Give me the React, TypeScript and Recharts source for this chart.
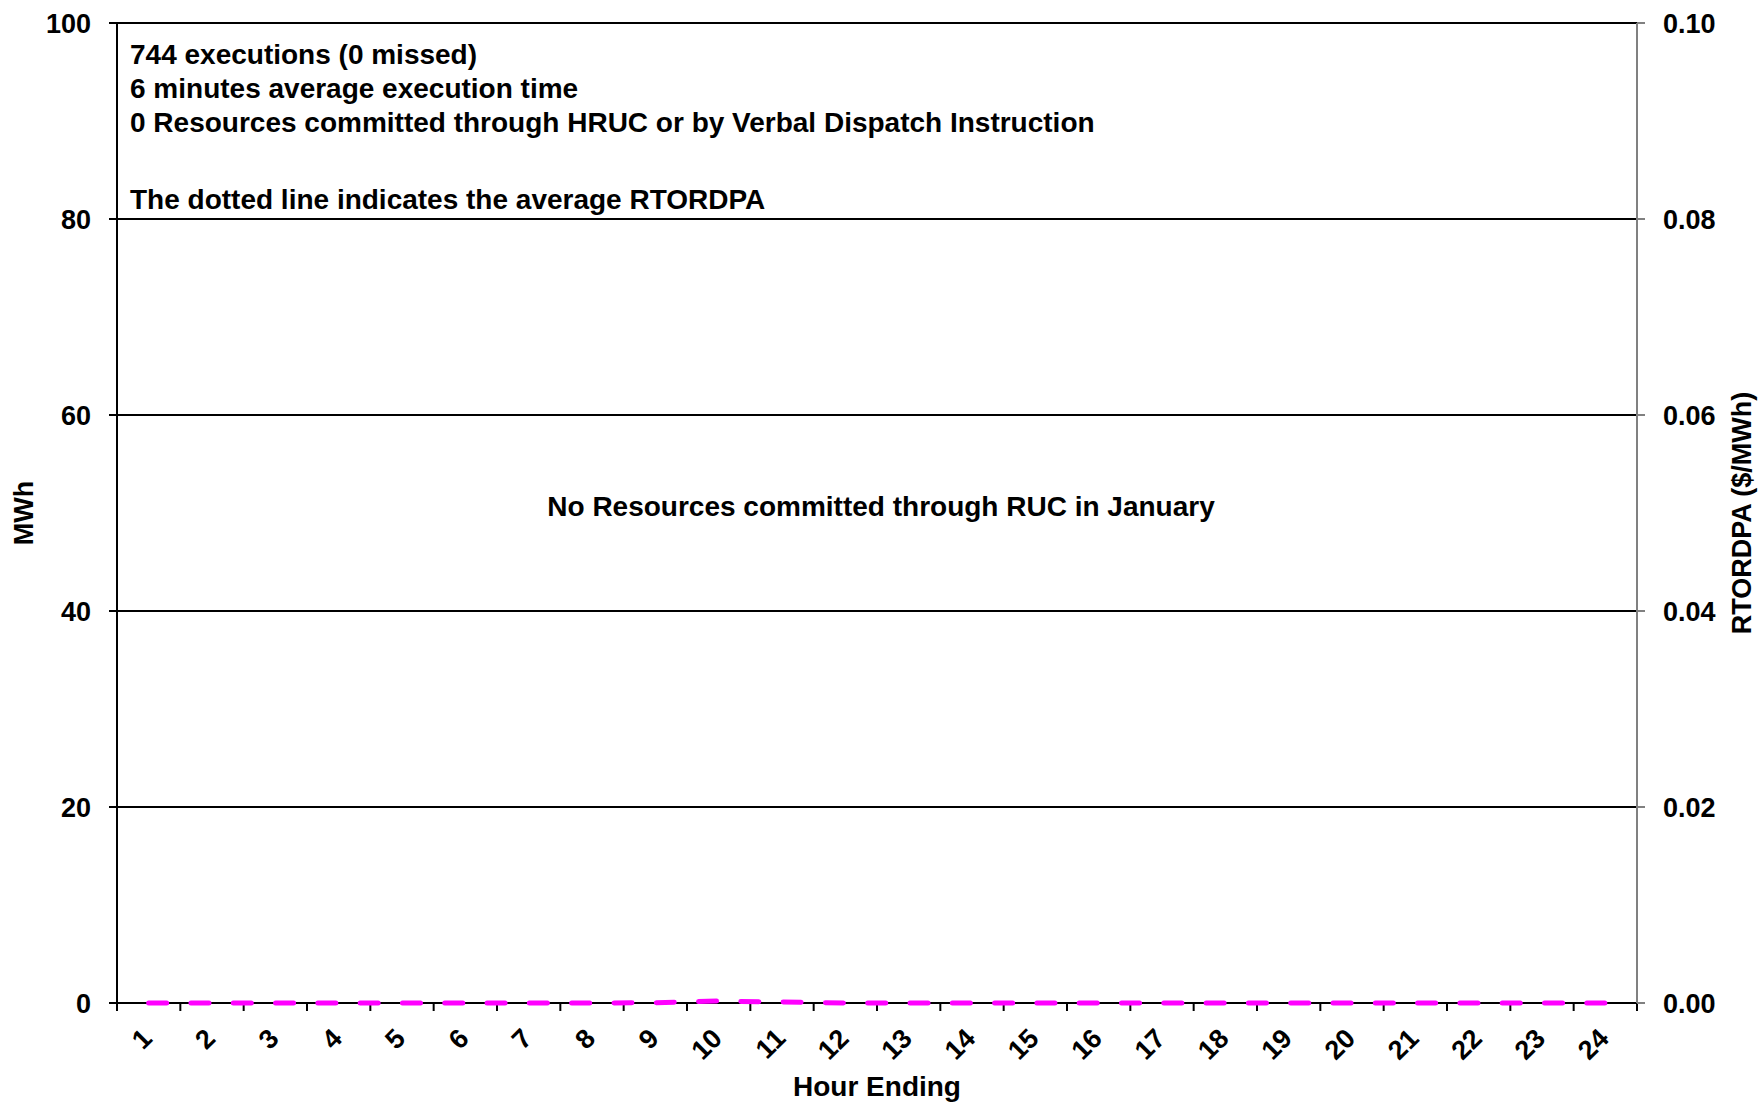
import React from 'react';
import { ComposedChart, Bar, Line, XAxis, YAxis, CartesianGrid } from 'recharts';

// hour ending 1..24
const hours = [1, 2, 3, 4, 5, 6, 7, 8, 9, 10, 11, 12, 13, 14, 15, 16, 17, 18, 19, 20, 21, 22, 23, 24];
// MWh committed through RUC per hour: none this month
const mwhCommitted = [0, 0, 0, 0, 0, 0, 0, 0, 0, 0, 0, 0, 0, 0, 0, 0, 0, 0, 0, 0, 0, 0, 0, 0];
// average RTORDPA ($/MWh) per hour, only HE 9-11 lift off zero
const rtordpa = [0, 0, 0, 0, 0, 0, 0, 0, 0.00003, 0.0002, 0.0001, 0, 0, 0, 0, 0, 0, 0, 0, 0, 0, 0, 0, 0];

const mwhTicks = [0, 20, 40, 60, 80, 100];
const priceTicks = [0, 0.02, 0.04, 0.06, 0.08, 0.1];

const notes = [
  '744 executions (0 missed)',
  '6 minutes average execution time',
  '0 Resources committed through HRUC or by Verbal Dispatch Instruction',
];
const dottedNote = 'The dotted line indicates the average RTORDPA';
const centerNote = 'No Resources committed through RUC in January';

const chartData = hours.map((hour, i) => ({ hour, mwh: mwhCommitted[i], rtordpa: rtordpa[i] }));
// tick marks sit between the categories, like the excel original
const hourEdges = [...hours.map((h) => h - 0.5), hours[hours.length - 1] + 0.5];

const FONT = "'Liberation Sans', Arial, sans-serif";
const axisText = { fill: '#000', fontSize: 27, fontWeight: 'bold', fontFamily: FONT };

const HourTick = ({ x, y, payload }: any) => {
  const tx = x + 5;
  const ty = y + 36;
  return (
    <text
      x={tx}
      y={ty}
      transform={`rotate(-45, ${tx}, ${ty})`}
      textAnchor="end"
      {...axisText}
    >
      {payload.value}
    </text>
  );
};

export default function App() {
  return (
    <div
      style={{
        position: 'absolute',
        left: 0,
        top: 0,
        width: 1759,
        height: 1103,
        background: '#fff',
        fontFamily: FONT,
      }}
    >
      <ComposedChart
        width={1759}
        height={1103}
        data={chartData}
        margin={{ top: 23, right: 0, bottom: 0, left: 0 }}
      >
        <CartesianGrid vertical={false} stroke="#000" strokeWidth={2} xAxisId="hours" yAxisId="mwh" />
        <XAxis
          xAxisId="edges"
          type="number"
          dataKey="hour"
          domain={[0.5, 24.5]}
          ticks={hourEdges}
          interval={0}
          tick={() => <g />}
          tickSize={8}
          height={1}
          axisLine={{ stroke: '#000', strokeWidth: 2 }}
          tickLine={{ stroke: '#000', strokeWidth: 2 }}
        />
        <XAxis
          xAxisId="hours"
          type="number"
          dataKey="hour"
          domain={[0.5, 24.5]}
          ticks={hours}
          interval={0}
          tick={HourTick}
          tickSize={0}
          tickMargin={0}
          height={99}
          axisLine={false}
          tickLine={false}
          label={{ value: 'Hour Ending', position: 'insideBottom', offset: 7, ...axisText, fontSize: 28 }}
        />
        <YAxis
          yAxisId="mwh"
          orientation="left"
          width={117}
          type="number"
          domain={[0, 100]}
          ticks={mwhTicks}
          interval={0}
          tickSize={8}
          tickMargin={18}
          tick={axisText}
          axisLine={{ stroke: '#000', strokeWidth: 2 }}
          tickLine={{ stroke: '#000', strokeWidth: 2 }}
          label={{ value: 'MWh', angle: -90, position: 'insideLeft', offset: 23, ...axisText, style: { textAnchor: 'middle' } }}
        />
        <YAxis
          yAxisId="price"
          orientation="right"
          width={122}
          type="number"
          domain={[0, 0.1]}
          ticks={priceTicks}
          interval={0}
          tickFormatter={(v: number) => v.toFixed(2)}
          tickSize={8}
          tickMargin={18}
          tick={axisText}
          axisLine={{ stroke: '#808080', strokeWidth: 2 }}
          tickLine={{ stroke: '#808080', strokeWidth: 2 }}
          label={{ value: 'RTORDPA ($/MWh)', angle: -90, position: 'insideRight', offset: 18, ...axisText, style: { textAnchor: 'middle' } }}
        />
        <Bar
          xAxisId="hours"
          yAxisId="mwh"
          dataKey="mwh"
          fill="#4472C4"
          barSize={30}
          isAnimationActive={false}
        />
        <Line
          xAxisId="hours"
          yAxisId="price"
          type="linear"
          dataKey="rtordpa"
          stroke="#FF00FF"
          strokeWidth={5}
          strokeDasharray="18 24.3"
          strokeLinecap="round"
          dot={false}
          activeDot={false}
          isAnimationActive={false}
          zIndex={600}
        />
      </ComposedChart>
      <svg
        width={1759}
        height={1103}
        style={{ position: 'absolute', left: 0, top: 0, pointerEvents: 'none' }}
      >
        {notes.map((line, i) => (
          <text key={i} x={130} y={64 + i * 34} fontSize={28} fontWeight="bold" fontFamily={FONT} fill="#000">
            {line}
          </text>
        ))}
        <text x={130} y={209} fontSize={28} fontWeight="bold" fontFamily={FONT} fill="#000">
          {dottedNote}
        </text>
        <text x={881} y={516} textAnchor="middle" fontSize={28} fontWeight="bold" fontFamily={FONT} fill="#000">
          {centerNote}
        </text>
      </svg>
    </div>
  );
}
